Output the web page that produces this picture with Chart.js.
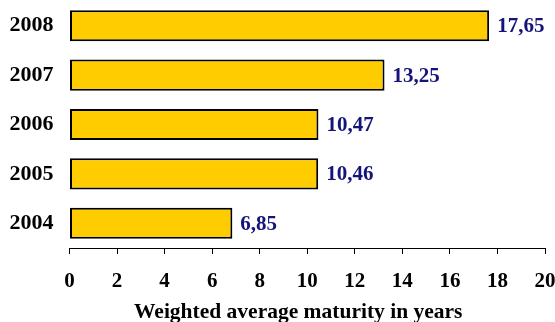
<!DOCTYPE html>
<html>
<head>
<meta charset="utf-8">
<script src="https://cdn.jsdelivr.net/npm/chart.js@4"></script>
<style>
  html, body { margin: 0; padding: 0; background: #fff; }
  #wrap { width: 555px; height: 322px; }
</style>
</head>
<body>
<div id="wrap"><canvas id="myChart"></canvas></div>
<script>
// maturity per year, newest on top
const years = ['2008', '2007', '2006', '2005', '2004'];
const maturity = [17.65, 13.25, 10.47, 10.46, 6.85];
const xTicks = [0, 2, 4, 6, 8, 10, 12, 14, 16, 18, 20];

const serif = '"Liberation Serif", "Times New Roman", serif';
const axisTitle = 'Weighted average maturity in years';

// writes the value next to each bar, with a comma as decimal mark
const valueLabels = {
  id: 'valueLabels',
  afterDatasetsDraw(chart) {
    const ctx = chart.ctx;
    const meta = chart.getDatasetMeta(0);
    ctx.save();
    ctx.font = 'bold 21px ' + serif;
    ctx.fillStyle = '#14147a';
    ctx.textAlign = 'left';
    ctx.textBaseline = 'middle';
    meta.data.forEach((bar, i) => {
      ctx.fillText(maturity[i].toFixed(2).replace('.', ','), bar.x + 8, bar.y + 1);
    });
    ctx.restore();
  }
};

// axis caption under the tick labels
const bottomTitle = {
  id: 'bottomTitle',
  afterDraw(chart) {
    const ctx = chart.ctx;
    const area = chart.chartArea;
    ctx.save();
    ctx.font = 'bold 21.5px ' + serif;
    ctx.fillStyle = '#000';
    ctx.textAlign = 'center';
    ctx.textBaseline = 'middle';
    ctx.fillText(axisTitle, (area.left + area.right) / 2 - 9, 312);
    ctx.restore();
  }
};

// fixed scale sizes, no extra label padding
function noPadding(scale) {
  scale.paddingLeft = scale.paddingRight = scale.paddingTop = scale.paddingBottom = 0;
}

const ctx = document.getElementById('myChart');
const myChart = new Chart(ctx, {
  type: 'bar',
  data: {
    labels: years,
    datasets: [{
      data: maturity,
      backgroundColor: '#ffcc00',
      borderColor: '#000',
      borderWidth: 2,
      borderSkipped: false,
      barPercentage: 0.63,
      categoryPercentage: 1
    }]
  },
  options: {
    indexAxis: 'y',
    responsive: true,
    maintainAspectRatio: false,
    animation: false,
    layout: { padding: { top: 1, right: 10, bottom: 0, left: 0 } },
    plugins: {
      legend: { display: false },
      tooltip: { enabled: false }
    },
    scales: {
      x: {
        min: 0,
        max: 20,
        afterBuildTicks(scale) {
          scale.ticks = xTicks.map(v => ({ value: v }));
        },
        afterFit(scale) { scale.height = 74; noPadding(scale); },
        grid: {
          drawOnChartArea: false,
          drawTicks: true,
          tickLength: 6,
          color: '#000'
        },
        border: { display: true, color: '#000', width: 1 },
        ticks: {
          color: '#000',
          padding: 15,
          maxRotation: 0,
          font: { family: serif, size: 21, weight: 'bold' }
        }
      },
      y: {
        grid: { display: false },
        border: { display: false },
        afterFit(scale) { scale.width = 69.5; noPadding(scale); },
        ticks: {
          color: '#000',
          padding: 8,
          font: { family: serif, size: 22, weight: 'bold' }
        }
      }
    }
  },
  plugins: [valueLabels, bottomTitle]
});
</script>
</body>
</html>
